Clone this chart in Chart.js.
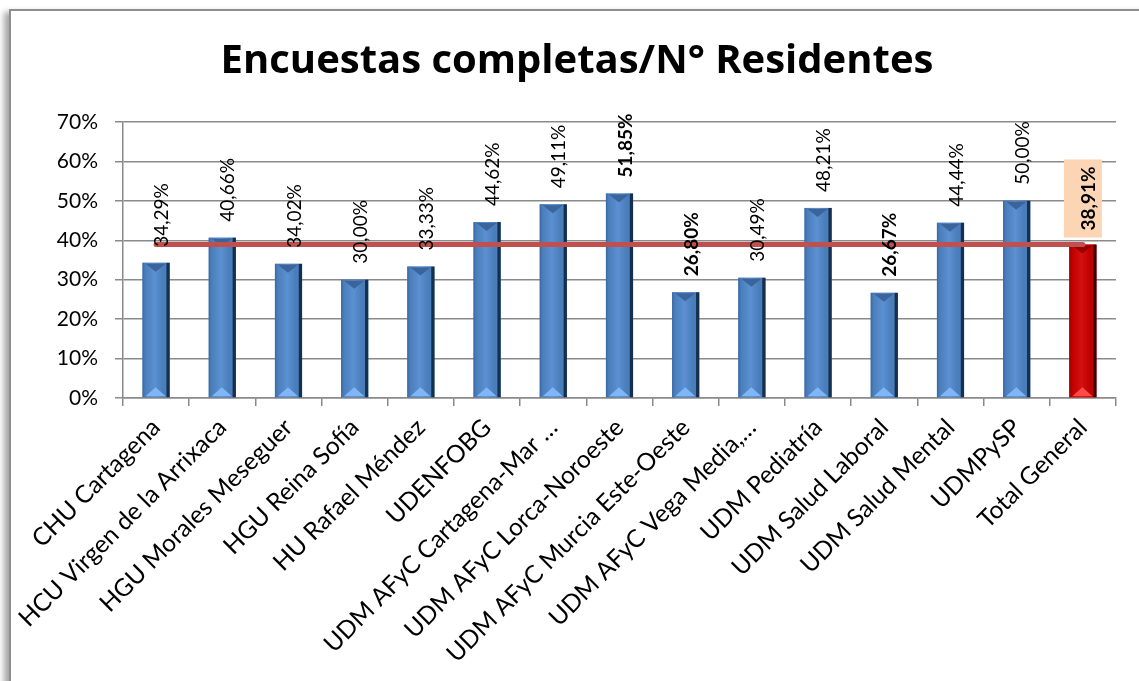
<!DOCTYPE html>
<html>
<head>
<meta charset="utf-8">
<title>Encuestas completas/N° Residentes</title>
<script src="https://cdn.jsdelivr.net/npm/chart.js@4.4.0/dist/chart.umd.min.js"></script>
<style>
    html, body { margin: 0; padding: 0; background: #fff; overflow: hidden; }
    #frame {
        position: absolute; left: 9px; top: 9px; width: 1200px; height: 800px;
        border: 2px solid #8e8e8e; background: #fff;
        box-shadow: -5px 3px 6px rgba(0, 0, 0, 0.35);
    }
    #wrap { position: absolute; left: 0; top: 0; width: 1139px; height: 681px; }
</style>
</head>
<body>
<div id="frame"></div>
<div id="wrap"><canvas id="encuestasChart"></canvas></div>
<script>
const chartTitle = 'Encuestas completas/N° Residentes';
const categories = [
    'CHU Cartagena', 'HCU Virgen de la Arrixaca', 'HGU Morales Meseguer', 'HGU Reina Sofía',
    'HU Rafael Méndez', 'UDENFOBG', 'UDM AFyC Cartagena-Mar …', 'UDM AFyC Lorca-Noroeste',
    'UDM AFyC Murcia Este-Oeste', 'UDM AFyC Vega Media,…', 'UDM Pediatría', 'UDM Salud Laboral',
    'UDM Salud Mental', 'UDMPySP', 'Total General'
];
const values = [34.29, 40.66, 34.02, 30.00, 33.33, 44.62, 49.11, 51.85, 26.80, 30.49, 48.21, 26.67, 44.44, 50.00, 38.91];
const totalLine = [38.91, 38.91, 38.91, 38.91, 38.91, 38.91, 38.91, 38.91, 38.91, 38.91, 38.91, 38.91, 38.91, 38.91, 38.91];
const boldLabels = [7, 8, 11, 14];
const yTicks = [0, 10, 20, 30, 40, 50, 60, 70];

const FONT = 'Lato';
const blue = { body: '#4a7ebb', light: '#5b90d2', left: '#3a68a2', right: '#15304f', top: '#3b659a', bottom: '#7fb6f7' };
const red = { body: '#c00000', light: '#d41010', left: '#990000', right: '#3a0000', top: '#970000', bottom: '#ff4a4a' };

function palette(i) {
    return i === values.length - 1 ? red : blue;
}

// título centrado sobre todo el recuadro
const titlePlugin = {
    id: 'bigTitle',
    afterDraw(chart) {
        const ctx = chart.ctx;
        ctx.save();
        ctx.font = 'bold 40px "Open Sans"';
        ctx.fillStyle = '#000';
        ctx.textAlign = 'center';
        ctx.textBaseline = 'middle';
        ctx.fillText(chartTitle, 577, 62);
        ctx.restore();
    }
};

// bisel tipo Excel sobre cada barra
const bevelPlugin = {
    id: 'bevel',
    afterDatasetDraw(chart, args) {
        if (args.index !== 0) return;
        const ctx = chart.ctx;
        args.meta.data.forEach((bar, i) => {
            const p = palette(i);
            const L = bar.x - bar.width / 2, R = bar.x + bar.width / 2;
            const T = bar.y, B = bar.base;
            ctx.save();
            const g = ctx.createLinearGradient(L, 0, R, 0);
            g.addColorStop(0, p.left);
            g.addColorStop(0.1, p.body);
            g.addColorStop(0.45, p.light);
            g.addColorStop(0.75, p.body);
            g.addColorStop(0.86, p.body);
            g.addColorStop(0.9, p.right);
            g.addColorStop(1, p.right);
            ctx.fillStyle = g;
            ctx.fillRect(L, T, R - L, B - T);
            ctx.fillStyle = p.top;
            ctx.beginPath();
            ctx.moveTo(L + 3, T + 1);
            ctx.lineTo(R - 4, T + 1);
            ctx.lineTo(bar.x - 0.5, T + 9);
            ctx.closePath();
            ctx.fill();
            ctx.fillStyle = p.bottom;
            ctx.beginPath();
            ctx.moveTo(L + 3, B - 1);
            ctx.lineTo(R - 4, B - 1);
            ctx.lineTo(bar.x - 0.5, B - 10);
            ctx.closePath();
            ctx.fill();
            ctx.restore();
        });
    }
};

// etiquetas de valor verticales
const valueLabelsPlugin = {
    id: 'valueLabels',
    afterDatasetsDraw(chart) {
        const ctx = chart.ctx;
        const meta = chart.getDatasetMeta(0);
        meta.data.forEach((bar, i) => {
            const txt = values[i].toFixed(2).replace('.', ',') + '%';
            const isTotal = i === values.length - 1;
            ctx.save();
            ctx.font = (boldLabels.includes(i) ? 'bold ' : '') + '19px ' + FONT;
            const w = ctx.measureText(txt).width;
            ctx.translate(bar.x + 6, bar.y - (isTotal ? 14 : 16));
            ctx.rotate(-Math.PI / 2);
            if (isTotal) {
                ctx.fillStyle = '#fcd5b5';
                ctx.fillRect(-7, -25, w + 14, 38);
            }
            ctx.fillStyle = '#000';
            ctx.textAlign = 'left';
            ctx.textBaseline = 'middle';
            ctx.fillText(txt, 0, 0);
            ctx.restore();
        });
    }
};

function initEncuestasChart() {
    const ctx = document.getElementById('encuestasChart');
    if (!ctx) return;

    const chart = new Chart(ctx, {
        data: {
            labels: categories,
            datasets: [{
                type: 'bar',
                label: chartTitle,
                data: values,
                backgroundColor: values.map((v, i) => palette(i).body),
                barPercentage: 0.41,
                categoryPercentage: 1,
                order: 2
            }, {
                type: 'line',
                label: 'Total General',
                data: totalLine,
                borderColor: '#c0504d',
                borderWidth: 5,
                borderCapStyle: 'round',
                pointRadius: 0,
                fill: false,
                order: 1
            }]
        },
        options: {
            responsive: true,
            maintainAspectRatio: false,
            animation: false,
            layout: { padding: { left: 0, right: 23, top: 122, bottom: 0 } },
            plugins: {
                title: { display: false },
                legend: { display: false },
                tooltip: { enabled: false }
            },
            scales: {
                x: {
                    grid: {
                        display: true,
                        drawOnChartArea: false,
                        drawTicks: true,
                        tickLength: 8,
                        color: '#8a8a8a',
                        lineWidth: 1.5
                    },
                    border: { display: true, color: '#8a8a8a', width: 1.5 },
                    ticks: {
                        autoSkip: false,
                        minRotation: 45,
                        maxRotation: 45,
                        padding: 7,
                        color: '#000',
                        font: { family: FONT, size: 24.5 }
                    },
                    afterFit(scale) { scale.height = 283; }
                },
                y: {
                    min: 0,
                    max: 70,
                    afterBuildTicks(scale) { scale.ticks = yTicks.map(v => ({ value: v })); },
                    grid: {
                        color: '#8a8a8a',
                        lineWidth: 1.5,
                        tickLength: 8
                    },
                    border: { display: true, color: '#8a8a8a', width: 1.5 },
                    ticks: {
                        padding: 17,
                        color: '#000',
                        font: { family: FONT, size: 21 },
                        callback: v => v + '%'
                    },
                    afterFit(scale) { scale.width = 123; }
                }
            }
        },
        plugins: [bevelPlugin, valueLabelsPlugin, titlePlugin]
    });

    window.encuestasChart = chart;
}

document.addEventListener('DOMContentLoaded', initEncuestasChart);
</script>
</body>
</html>
